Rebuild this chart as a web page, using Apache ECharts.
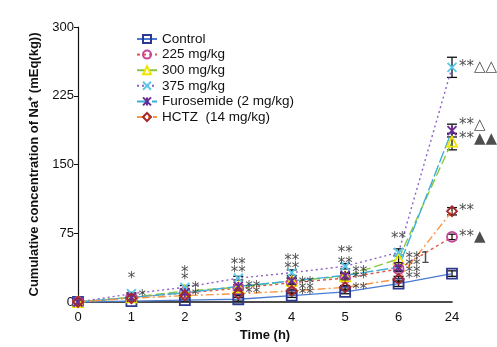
<!DOCTYPE html>
<html><head><meta charset="utf-8">
<script src="https://cdn.jsdelivr.net/npm/echarts@6/dist/echarts.min.js"></script>
<style>html,body{margin:0;padding:0;background:#fff}#c{width:497px;height:347px}</style>
</head><body><div id="c"></div>
<script>
var timeLabels = ['0','1','2','3','4','5','6','24'];
var yTicks = [0, 75, 150, 225, 300];
var seriesNames = ['Control','225 mg/kg','300 mg/kg','375 mg/kg','Furosemide (2 mg/kg)','HCTZ  (14 mg/kg)'];
var control   = [0, 1, 2, 3, 7, 11, 20, 31];
var dose225   = [0, 5, 10, 15, 21, 26, 36, 71];
var dose300   = [0, 5, 12, 16, 23, 28, 47, 175];
var dose375   = [0, 9, 16, 26, 32, 39, 54, 256];
var furosemide= [0, 5, 10, 17, 23, 29, 38, 187];
var hctz      = [0, 4, 7, 9, 12, 16, 25, 99];
var errControl = [0, 1, 1, 2, 2, 2, 3, 3];
var err225     = [0, 1, 2, 2, 2, 3, 3, 3];
var err300     = [0, 1, 2, 2, 3, 3, 4, 9];
var err375     = [0, 1, 2, 2, 3, 3, 4, 11];
var errFuro    = [0, 1, 2, 2, 3, 3, 4, 7];
var errHctz    = [0, 1, 1, 2, 2, 2, 3, 4];
// annotations: [time index, value, text]
var notesAbove = [
  [1, 25, '*'],
  [2, 32, '*'], [2, 24, '*'],
  [3, 40, '**'], [3, 31, '**'],
  [4, 45, '**'], [4, 36, '**'],
  [5, 53, '**'], [5, 41, '**'],
  [6, 69, '**']
];
var notesRight = [
  [1, 5, '*'],
  [2, 14, '*'], [2, 6, '*'],
  [3, 15, '**'], [3, 9, '**'],
  [4, 20, '**'], [4, 13, '**'], [4, 8, '**'],
  [5, 32, '**'], [5, 25, '**'], [5, 13, '**'],
  [6, 47, '**1'], [6, 39, '**'], [6, 32, '**'], [6, 25, '**'],
  [7, 256, '**\u25B3\u25B3'], [7, 193, '**\u25B3'], [7, 178, '**\u25B2\u25B2'],
  [7, 99, '**'], [7, 71, '**\u25B2']
];

var values = [control, dose225, dose300, dose375, furosemide, hctz];
var errors = [errControl, err225, err300, err375, errFuro, errHctz];
var lineColors = ['#4a7bd0','#e0584a','#8cc63f','#8b5fc6','#3bafd8','#f79646'];
var markColors = ['#2b3990','#c8479c','#f2e400','#5bc8e8','#6a2c91','#a3292c'];
var lineTypes = ['solid',[3,3],[9,4],[2,3],[12,3],[8,3,2,3]];
var symbols = ['rect','circle','triangle','path://M0,0L10,10M10,0L0,10','path://M0,0L10,10M10,0L0,10M5,0L5,10','diamond'];
var symSizes = [10,10,10,9,9,10];

var series = [];
for (var i = 0; i < values.length; i++) {
  (function(i){
    series.push({
      type: 'custom', name: seriesNames[i] + '_err', silent: true, z: 3,
      data: values[i].map(function(v, k){ return [k, v - errors[i][k], v + errors[i][k]]; }),
      renderItem: function(params, api){
        if (api.value(2) - api.value(1) < 1) return null;
        var lo = api.coord([api.value(0), api.value(1)]);
        var hi = api.coord([api.value(0), api.value(2)]);
        var w = 5;
        var st = {stroke:'#111', lineWidth:1.3};
        return {type:'group', children:[
          {type:'line', shape:{x1:lo[0],y1:lo[1],x2:hi[0],y2:hi[1]}, style:st},
          {type:'line', shape:{x1:lo[0]-w,y1:lo[1],x2:lo[0]+w,y2:lo[1]}, style:st},
          {type:'line', shape:{x1:hi[0]-w,y1:hi[1],x2:hi[0]+w,y2:hi[1]}, style:st}
        ]};
      }
    });
  })(i);
}
for (var i = 0; i < values.length; i++) {
  series.push({
    type: 'line', name: seriesNames[i], data: values[i], z: 4,
    symbol: symbols[i], symbolSize: symSizes[i], showAllSymbol: true,
    lineStyle: {color: lineColors[i], width: 1.4, type: lineTypes[i]},
    itemStyle: {color: 'rgba(255,255,255,0)', borderColor: markColors[i], borderWidth: 1.8},
    emphasis: {disabled: true}
  });
}
var noteFont = {color: '#222', fontSize: 15, fontFamily: 'DejaVu Sans'};
series.push({
  type: 'scatter', silent: true, symbolSize: 0, z: 6,
  data: notesAbove.map(function(a){ return {value:[a[0], a[1]], name:a[2]}; }),
  label: Object.assign({show: true, position: 'inside', formatter: function(p){return p.name;}}, noteFont)
});
series.push({
  type: 'scatter', silent: true, symbolSize: 0, z: 6,
  data: notesRight.map(function(a){ return {value:[a[0], a[1]], name:a[2]}; }),
  label: Object.assign({show: true, position: 'right', distance: 7, formatter: function(p){return p.name;}}, noteFont)
});

var chart = echarts.init(document.getElementById('c'), null, {renderer: 'canvas'});
chart.setOption({
  animation: false,
  backgroundColor: '#fff',
  textStyle: {fontFamily: 'Liberation Sans'},
  grid: {left: 78, right: 45, top: 27, bottom: 44},
  legend: {
    orient: 'vertical', left: 131, top: 27, itemWidth: 20, itemHeight: 10, itemGap: 1.6,
    data: seriesNames,
    textStyle: {fontSize: 13.5, color: '#111', fontFamily: 'Liberation Sans', lineHeight: 14}
  },
  xAxis: {
    type: 'category', data: timeLabels, boundaryGap: false,
    name: 'Time (h)', nameLocation: 'middle', nameGap: 27,
    nameTextStyle: {fontSize: 13, fontWeight: 'bold', color: '#111'},
    axisLine: {lineStyle: {color: '#111', width: 1.6}},
    axisTick: {show: false},
    axisLabel: {fontSize: 13, color: '#111', margin: 9},
    splitLine: {show: false}
  },
  yAxis: {
    type: 'value', min: yTicks[0], max: yTicks[yTicks.length-1], interval: 75,
    name: 'Cumulative concentration of Na\u207A (mEq(kg))', nameLocation: 'middle', nameGap: 36,
    nameTextStyle: {fontSize: 13, fontWeight: 'bold', color: '#111'},
    axisLine: {show: true, lineStyle: {color: '#111', width: 1.2}},
    axisTick: {show: true, length: 4, lineStyle: {color: '#111'}},
    axisLabel: {fontSize: 13, color: '#111', margin: 4},
    splitLine: {show: false}
  },
  series: series
});
</script></body></html>
